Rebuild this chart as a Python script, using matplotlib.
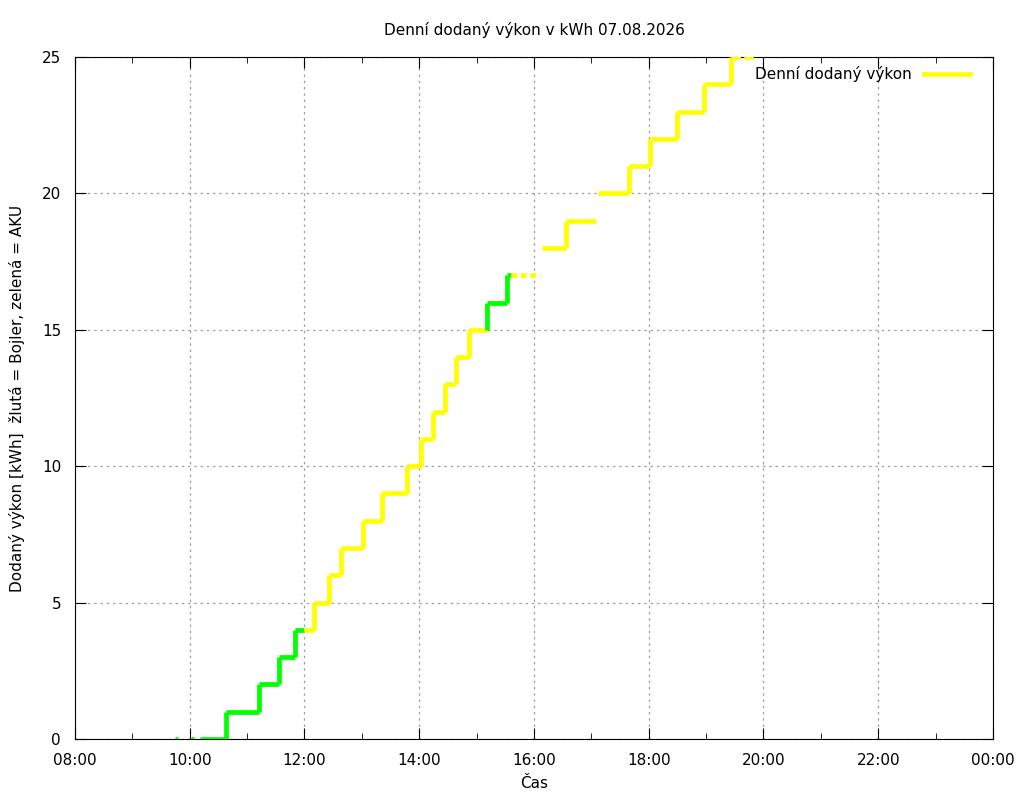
import matplotlib
matplotlib.use("Agg")
import matplotlib.pyplot as plt
from matplotlib.ticker import MultipleLocator, FuncFormatter

G = "#00ff00"
Y = "#ffff00"
# horizontal runs: start hour, end hour, value, colour, style
seg_start = [9.74, 10.02, 10.18, 10.63, 11.20, 11.55, 11.83, 12.00, 12.17, 12.43, 12.64, 13.02, 13.35, 13.79, 14.03, 14.24, 14.45, 14.64, 14.87, 15.18, 15.53, 15.60, 16.14, 16.56, 17.12, 17.66, 18.02, 18.49, 18.96, 19.43]
seg_end   = [9.80, 10.08, 10.63, 11.20, 11.55, 11.83, 12.00, 12.17, 12.43, 12.64, 13.02, 13.35, 13.79, 14.03, 14.24, 14.45, 14.64, 14.87, 15.18, 15.53, 15.60, 16.10, 16.56, 17.08, 17.66, 18.02, 18.49, 18.96, 19.43, 19.85]
seg_value = [0, 0, 0, 1, 2, 3, 4, 4, 5, 6, 7, 8, 9, 10, 11, 12, 13, 14, 15, 16, 17, 17, 18, 19, 20, 21, 22, 23, 24, 25]
seg_color = [G, G, G, G, G, G, G, Y, Y, Y, Y, Y, Y, Y, Y, Y, Y, Y, Y, G, G, Y, Y, Y, Y, Y, Y, Y, Y, Y]
seg_style = ["-"] * 21 + [(0, (1.2, 0.8))] + ["-"] * 7 + [(0, (2, 0.7))]

fig = plt.figure(figsize=(10.24, 8), dpi=100)
ax = fig.add_axes([0.0732, 0.07625, 0.8965, 0.8525])
lw = 3.4
for i in range(len(seg_start)):
    ax.plot([seg_start[i], seg_end[i]], [seg_value[i]] * 2, color=seg_color[i],
            lw=lw, ls=seg_style[i], solid_capstyle="butt", zorder=3)
    if i > 0 and abs(seg_start[i] - seg_end[i - 1]) < 1e-6 and seg_value[i] != seg_value[i - 1]:
        ax.plot([seg_start[i]] * 2, [seg_value[i - 1], seg_value[i]], color=seg_color[i],
                lw=lw, solid_capstyle="butt", zorder=3)

ax.plot([], [], color=Y, lw=3.4, label="Denní dodaný výkon")
leg = ax.legend(loc="upper right", frameon=False, markerfirst=False, fontsize=11,
                handlelength=3.0, borderaxespad=0.2, bbox_to_anchor=(0.985, 1.0))

ax.set_xlim(8, 24)
ax.set_ylim(0, 25)
ax.xaxis.set_major_locator(MultipleLocator(2))
ax.xaxis.set_minor_locator(MultipleLocator(1))
ax.yaxis.set_major_locator(MultipleLocator(5))
ax.xaxis.set_major_formatter(FuncFormatter(lambda v, p: "%02d:00" % (int(round(v)) % 24)))
ax.tick_params(which="both", direction="in", top=True, right=True, labelsize=11)
ax.tick_params(which="major", length=8)
ax.tick_params(which="minor", length=4)
ax.tick_params(axis="x", pad=10)
ax.tick_params(axis="y", pad=10)
ax.grid(True, which="major", color="#a0a0a0", ls=(0, (2, 3)), lw=0.9)
ax.set_title("Denní dodaný výkon v kWh 07.08.2026", fontsize=11, pad=16)
ax.set_xlabel("Čas", fontsize=11, labelpad=6)
ax.set_ylabel("Dodaný výkon [kWh]  žlutá = Bojler, zelená = AKU", fontsize=11, labelpad=12)
fig.savefig("out.png", dpi=100)
